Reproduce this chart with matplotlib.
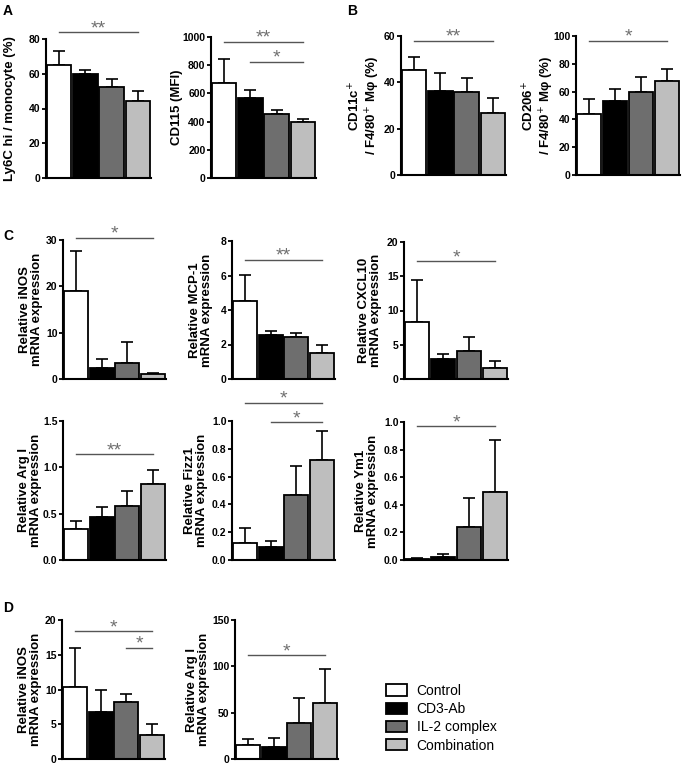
import numpy as np
import matplotlib
matplotlib.use('Agg')
import matplotlib.pyplot as plt

plt.rcParams['font.family'] = ['Liberation Sans', 'DejaVu Sans']

groups = ['Control', 'CD3-Ab', 'IL-2 complex', 'Combination']
colors = ['#ffffff', '#000000', '#6e6e6e', '#bebebe']

# panel values (mean, upper SD)
ly6c = [65.3, 60.0, 52.4, 44.4]
ly6c_err = [7.7, 2.3, 4.4, 5.7]
cd115 = [672, 564, 452, 400]
cd115_err = [172, 62, 29, 16]
cd11c = [45.3, 36.4, 35.7, 26.9]
cd11c_err = [5.5, 7.5, 6.0, 6.3]
cd206 = [44.2, 53.0, 59.4, 67.8]
cd206_err = [10.5, 8.8, 11.2, 8.3]
c_inos = [19.0, 2.3, 3.5, 1.0]
c_inos_err = [8.6, 2.1, 4.4, 0.2]
c_mcp1 = [4.55, 2.55, 2.45, 1.5]
c_mcp1_err = [1.5, 0.22, 0.2, 0.5]
c_cxcl10 = [8.3, 2.9, 4.1, 1.6]
c_cxcl10_err = [6.1, 0.8, 2.1, 1.0]
c_arg = [0.33, 0.46, 0.58, 0.82]
c_arg_err = [0.09, 0.11, 0.16, 0.15]
c_fizz = [0.12, 0.09, 0.465, 0.72]
c_fizz_err = [0.11, 0.045, 0.21, 0.21]
c_ym1 = [0.01, 0.025, 0.24, 0.49]
c_ym1_err = [0.005, 0.015, 0.21, 0.38]
d_inos = [10.4, 6.7, 8.2, 3.5]
d_inos_err = [5.5, 3.2, 1.2, 1.6]
d_arg = [15, 13, 39, 60]
d_arg_err = [7, 10, 27, 37]

W, H = 683, 764
fig = plt.figure(figsize=(W / 100, H / 100), dpi=100)


def add_axes(x0, x1, y0, y1):
    # pixel box -> figure fraction
    return fig.add_axes([x0 / W, 1 - y1 / H, (x1 - x0) / W, (y1 - y0) / H])


def panel(box, vals, errs, ymax, yticks, ylabel, sig, ticklabels=None, lab_off=21):
    ax = add_axes(*box)
    x = np.arange(4)
    bars = ax.bar(x, vals, width=0.93, color=colors, edgecolor='black',
                  linewidth=1.3, zorder=2)
    ax.errorbar(x, vals, yerr=[np.zeros(4), errs], fmt='none', ecolor='black',
                elinewidth=1.2, capsize=4, capthick=1.2, zorder=1)
    ax.set_xlim(-0.5, 3.5)
    ax.set_ylim(0, ymax)
    ax.set_yticks(yticks)
    if ticklabels is not None:
        ax.set_yticklabels(ticklabels)
    ax.set_xticks([])
    for s in ['top', 'right']:
        ax.spines[s].set_visible(False)
    for s in ['left', 'bottom']:
        ax.spines[s].set_linewidth(1.5)
    ax.tick_params(axis='y', length=3, width=1.3, pad=1, labelsize=7.5)
    for lab in ax.get_yticklabels():
        lab.set_fontweight('bold')
    ax.set_ylabel(ylabel, fontsize=9.5, fontweight='bold', linespacing=1.05)
    ax.yaxis.set_label_coords(-lab_off / (box[1] - box[0]), 0.5)
    for i, j, y, txt in sig:
        ax.plot([i, j], [y, y], color='#555555', lw=1.0, clip_on=False)
        ax.annotate(txt, ((i + j) / 2, y), xytext=(0, -3.5),
                    textcoords='offset points', ha='center', va='bottom',
                    fontsize=14, color='#707070', annotation_clip=False)
    return bars


bars = panel((46, 151, 39, 178), ly6c, ly6c_err, 80, [0, 20, 40, 60, 80],
             'Ly6C hi / monocyte (%)', [(0, 3, 83.8, '**')], lab_off=30)
panel((211, 316, 37, 178), cd115, cd115_err, 1000, range(0, 1001, 200),
      'CD115 (MFI)', [(0, 3, 965, '**'), (1, 3, 826, '*')], lab_off=28)
panel((401, 506, 36, 175), cd11c, cd11c_err, 60, [0, 20, 40, 60],
      'CD11c$^{+}$\n/ F4/80$^{+}$ M\u03c6 (%)', [(0, 3, 58, '**')], lab_off=19)
panel((576, 680, 36, 175), cd206, cd206_err, 100, range(0, 101, 20),
      'CD206$^{+}$\n/ F4/80$^{+}$ M\u03c6 (%)', [(0, 3, 96.7, '*')], lab_off=20)

panel((63, 166, 240, 379), c_inos, c_inos_err, 30, [0, 10, 20, 30],
      'Relative iNOS\nmRNA expression', [(0, 3, 30.5, '*')], lab_off=20)
panel((232, 335, 241, 379), c_mcp1, c_mcp1_err, 8, [0, 2, 4, 6, 8],
      'Relative MCP-1\nmRNA expression', [(0, 3, 6.9, '**')], lab_off=19)
panel((404, 508, 242, 379), c_cxcl10, c_cxcl10_err, 20, [0, 5, 10, 15, 20],
      'Relative CXCL10\nmRNA expression', [(0, 3, 17.2, '*')], lab_off=22)

panel((63, 166, 421, 560), c_arg, c_arg_err, 1.5, [0, 0.5, 1.0, 1.5],
      'Relative Arg I\nmRNA expression', [(0, 3, 1.14, '**')],
      ['0.0', '0.5', '1.0', '1.5'], lab_off=21)
panel((232, 335, 421, 560), c_fizz, c_fizz_err, 1.0, np.arange(0, 1.01, 0.2),
      'Relative Fizz1\nmRNA expression', [(0, 3, 1.13, '*'), (1, 3, 0.99, '*')],
      ['0.0', '0.2', '0.4', '0.6', '0.8', '1.0'], lab_off=24)
panel((404, 508, 422, 560), c_ym1, c_ym1_err, 1.0, np.arange(0, 1.01, 0.2),
      'Relative Ym1\nmRNA expression', [(0, 3, 0.97, '*')],
      ['0.0', '0.2', '0.4', '0.6', '0.8', '1.0'], lab_off=25)

panel((62, 165, 620, 759), d_inos, d_inos_err, 20, [0, 5, 10, 15, 20],
      'Relative iNOS\nmRNA expression', [(0, 3, 18.4, '*'), (2, 3, 16.0, '*')],
      lab_off=20)
panel((235, 338, 620, 759), d_arg, d_arg_err, 150, [0, 50, 100, 150],
      'Relative Arg I\nmRNA expression', [(0, 3, 112, '*')], lab_off=25)

for letter, px, py in [('A', 3, 4), ('B', 347, 4), ('C', 3, 229), ('D', 3, 601)]:
    fig.text(px / W, 1 - py / H, letter, fontsize=10, fontweight='bold',
             va='top', ha='left')

fig.legend(bars, groups, loc='upper left',
           bbox_to_anchor=(386 / W, 1 - 684 / H), frameon=False,
           fontsize=10, handlelength=1.5, handleheight=0.9,
           handletextpad=0.7, labelspacing=0.3, borderaxespad=0,
           borderpad=0)

fig.savefig('out.png', dpi=100)
